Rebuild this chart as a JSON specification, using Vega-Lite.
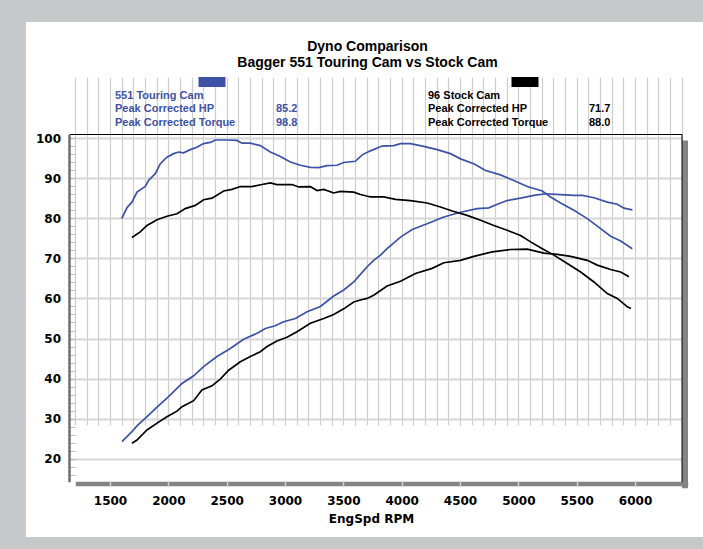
{
  "$schema": "https://vega.github.io/schema/vega-lite/v6.json",
  "width": 677,
  "height": 515,
  "autosize": {"type": "none"},
  "padding": {"left": 26, "top": 22, "right": 0, "bottom": 12},
  "background": "#c7c8ca",
  "view": {"fill": "white", "stroke": null},
  "title": {
    "text": "Dyno Comparison",
    "subtitle": "Bagger 551 Touring Cam vs Stock Cam",
    "anchor": "middle",
    "frame": "group",
    "offset": -48,
    "dx": 3,
    "font": "Liberation Sans",
    "fontSize": 14,
    "fontWeight": "bold",
    "color": "#000000",
    "subtitleFont": "Liberation Sans",
    "subtitleFontSize": 14,
    "subtitleFontWeight": "bold",
    "subtitleColor": "#000000",
    "subtitlePadding": 2
  },
  "datasets": {
    "cams": [
      {"cam": "551 Touring Cam"},
      {"cam": "96 Stock Cam"}
    ],
    "peaks": [
      {"cam": "551 Touring Cam", "metric": "Peak Corrected HP", "value": 85.2},
      {"cam": "551 Touring Cam", "metric": "Peak Corrected Torque", "value": 98.8},
      {"cam": "96 Stock Cam", "metric": "Peak Corrected HP", "value": 71.7},
      {"cam": "96 Stock Cam", "metric": "Peak Corrected Torque", "value": 88.0}
    ],
    "curves": [
      {"cam": "551 Touring Cam", "measure": "Torque", "rpm": 1600, "value": 79.9},
      {"cam": "551 Touring Cam", "measure": "Torque", "rpm": 1645, "value": 82.6},
      {"cam": "551 Touring Cam", "measure": "Torque", "rpm": 1688, "value": 84.0},
      {"cam": "551 Touring Cam", "measure": "Torque", "rpm": 1731, "value": 86.5},
      {"cam": "551 Touring Cam", "measure": "Torque", "rpm": 1802, "value": 87.9},
      {"cam": "551 Touring Cam", "measure": "Torque", "rpm": 1830, "value": 89.4},
      {"cam": "551 Touring Cam", "measure": "Torque", "rpm": 1888, "value": 91.1},
      {"cam": "551 Touring Cam", "measure": "Torque", "rpm": 1931, "value": 93.6},
      {"cam": "551 Touring Cam", "measure": "Torque", "rpm": 1988, "value": 95.2},
      {"cam": "551 Touring Cam", "measure": "Torque", "rpm": 2045, "value": 96.1},
      {"cam": "551 Touring Cam", "measure": "Torque", "rpm": 2088, "value": 96.5},
      {"cam": "551 Touring Cam", "measure": "Torque", "rpm": 2131, "value": 96.3},
      {"cam": "551 Touring Cam", "measure": "Torque", "rpm": 2188, "value": 97.1},
      {"cam": "551 Touring Cam", "measure": "Torque", "rpm": 2245, "value": 97.7},
      {"cam": "551 Touring Cam", "measure": "Torque", "rpm": 2302, "value": 98.6},
      {"cam": "551 Touring Cam", "measure": "Torque", "rpm": 2360, "value": 98.9},
      {"cam": "551 Touring Cam", "measure": "Torque", "rpm": 2402, "value": 99.5},
      {"cam": "551 Touring Cam", "measure": "Torque", "rpm": 2500, "value": 99.5},
      {"cam": "551 Touring Cam", "measure": "Torque", "rpm": 2588, "value": 99.4},
      {"cam": "551 Touring Cam", "measure": "Torque", "rpm": 2631, "value": 98.7},
      {"cam": "551 Touring Cam", "measure": "Torque", "rpm": 2703, "value": 98.7},
      {"cam": "551 Touring Cam", "measure": "Torque", "rpm": 2788, "value": 98.1},
      {"cam": "551 Touring Cam", "measure": "Torque", "rpm": 2874, "value": 96.5},
      {"cam": "551 Touring Cam", "measure": "Torque", "rpm": 2960, "value": 95.4},
      {"cam": "551 Touring Cam", "measure": "Torque", "rpm": 3046, "value": 94.0},
      {"cam": "551 Touring Cam", "measure": "Torque", "rpm": 3132, "value": 93.2},
      {"cam": "551 Touring Cam", "measure": "Torque", "rpm": 3217, "value": 92.7},
      {"cam": "551 Touring Cam", "measure": "Torque", "rpm": 3289, "value": 92.6},
      {"cam": "551 Touring Cam", "measure": "Torque", "rpm": 3360, "value": 93.1},
      {"cam": "551 Touring Cam", "measure": "Torque", "rpm": 3446, "value": 93.2},
      {"cam": "551 Touring Cam", "measure": "Torque", "rpm": 3503, "value": 93.9},
      {"cam": "551 Touring Cam", "measure": "Torque", "rpm": 3603, "value": 94.2},
      {"cam": "551 Touring Cam", "measure": "Torque", "rpm": 3661, "value": 95.8},
      {"cam": "551 Touring Cam", "measure": "Torque", "rpm": 3732, "value": 96.8},
      {"cam": "551 Touring Cam", "measure": "Torque", "rpm": 3832, "value": 98.0},
      {"cam": "551 Touring Cam", "measure": "Torque", "rpm": 3932, "value": 98.1},
      {"cam": "551 Touring Cam", "measure": "Torque", "rpm": 3990, "value": 98.6},
      {"cam": "551 Touring Cam", "measure": "Torque", "rpm": 4075, "value": 98.6},
      {"cam": "551 Touring Cam", "measure": "Torque", "rpm": 4189, "value": 97.9},
      {"cam": "551 Touring Cam", "measure": "Torque", "rpm": 4304, "value": 97.1},
      {"cam": "551 Touring Cam", "measure": "Torque", "rpm": 4418, "value": 96.1},
      {"cam": "551 Touring Cam", "measure": "Torque", "rpm": 4504, "value": 94.8},
      {"cam": "551 Touring Cam", "measure": "Torque", "rpm": 4618, "value": 93.6},
      {"cam": "551 Touring Cam", "measure": "Torque", "rpm": 4719, "value": 91.9},
      {"cam": "551 Touring Cam", "measure": "Torque", "rpm": 4847, "value": 90.8},
      {"cam": "551 Touring Cam", "measure": "Torque", "rpm": 4961, "value": 89.4},
      {"cam": "551 Touring Cam", "measure": "Torque", "rpm": 5076, "value": 87.9},
      {"cam": "551 Touring Cam", "measure": "Torque", "rpm": 5205, "value": 86.8},
      {"cam": "551 Touring Cam", "measure": "Torque", "rpm": 5276, "value": 85.3},
      {"cam": "551 Touring Cam", "measure": "Torque", "rpm": 5362, "value": 83.8},
      {"cam": "551 Touring Cam", "measure": "Torque", "rpm": 5476, "value": 82.0},
      {"cam": "551 Touring Cam", "measure": "Torque", "rpm": 5591, "value": 79.9},
      {"cam": "551 Touring Cam", "measure": "Torque", "rpm": 5705, "value": 77.4},
      {"cam": "551 Touring Cam", "measure": "Torque", "rpm": 5791, "value": 75.5},
      {"cam": "551 Touring Cam", "measure": "Torque", "rpm": 5877, "value": 74.3},
      {"cam": "551 Touring Cam", "measure": "Torque", "rpm": 5977, "value": 72.4},

      {"cam": "551 Touring Cam", "measure": "HP", "rpm": 1602, "value": 24.3},
      {"cam": "551 Touring Cam", "measure": "HP", "rpm": 1688, "value": 26.8},
      {"cam": "551 Touring Cam", "measure": "HP", "rpm": 1731, "value": 28.2},
      {"cam": "551 Touring Cam", "measure": "HP", "rpm": 1817, "value": 30.5},
      {"cam": "551 Touring Cam", "measure": "HP", "rpm": 1903, "value": 32.9},
      {"cam": "551 Touring Cam", "measure": "HP", "rpm": 2002, "value": 35.5},
      {"cam": "551 Touring Cam", "measure": "HP", "rpm": 2117, "value": 38.8},
      {"cam": "551 Touring Cam", "measure": "HP", "rpm": 2217, "value": 40.7},
      {"cam": "551 Touring Cam", "measure": "HP", "rpm": 2302, "value": 43.0},
      {"cam": "551 Touring Cam", "measure": "HP", "rpm": 2417, "value": 45.5},
      {"cam": "551 Touring Cam", "measure": "HP", "rpm": 2531, "value": 47.5},
      {"cam": "551 Touring Cam", "measure": "HP", "rpm": 2645, "value": 49.8},
      {"cam": "551 Touring Cam", "measure": "HP", "rpm": 2774, "value": 51.5},
      {"cam": "551 Touring Cam", "measure": "HP", "rpm": 2831, "value": 52.5},
      {"cam": "551 Touring Cam", "measure": "HP", "rpm": 2917, "value": 53.2},
      {"cam": "551 Touring Cam", "measure": "HP", "rpm": 2988, "value": 54.2},
      {"cam": "551 Touring Cam", "measure": "HP", "rpm": 3089, "value": 55.0},
      {"cam": "551 Touring Cam", "measure": "HP", "rpm": 3189, "value": 56.7},
      {"cam": "551 Touring Cam", "measure": "HP", "rpm": 3303, "value": 58.0},
      {"cam": "551 Touring Cam", "measure": "HP", "rpm": 3374, "value": 59.6},
      {"cam": "551 Touring Cam", "measure": "HP", "rpm": 3417, "value": 60.6},
      {"cam": "551 Touring Cam", "measure": "HP", "rpm": 3503, "value": 62.1},
      {"cam": "551 Touring Cam", "measure": "HP", "rpm": 3589, "value": 64.1},
      {"cam": "551 Touring Cam", "measure": "HP", "rpm": 3646, "value": 66.0},
      {"cam": "551 Touring Cam", "measure": "HP", "rpm": 3704, "value": 67.9},
      {"cam": "551 Touring Cam", "measure": "HP", "rpm": 3760, "value": 69.5},
      {"cam": "551 Touring Cam", "measure": "HP", "rpm": 3818, "value": 70.8},
      {"cam": "551 Touring Cam", "measure": "HP", "rpm": 3875, "value": 72.4},
      {"cam": "551 Touring Cam", "measure": "HP", "rpm": 3990, "value": 75.3},
      {"cam": "551 Touring Cam", "measure": "HP", "rpm": 4090, "value": 77.2},
      {"cam": "551 Touring Cam", "measure": "HP", "rpm": 4218, "value": 78.6},
      {"cam": "551 Touring Cam", "measure": "HP", "rpm": 4361, "value": 80.3},
      {"cam": "551 Touring Cam", "measure": "HP", "rpm": 4504, "value": 81.5},
      {"cam": "551 Touring Cam", "measure": "HP", "rpm": 4647, "value": 82.4},
      {"cam": "551 Touring Cam", "measure": "HP", "rpm": 4747, "value": 82.6},
      {"cam": "551 Touring Cam", "measure": "HP", "rpm": 4819, "value": 83.5},
      {"cam": "551 Touring Cam", "measure": "HP", "rpm": 4904, "value": 84.4},
      {"cam": "551 Touring Cam", "measure": "HP", "rpm": 5019, "value": 85.0},
      {"cam": "551 Touring Cam", "measure": "HP", "rpm": 5133, "value": 85.7},
      {"cam": "551 Touring Cam", "measure": "HP", "rpm": 5233, "value": 86.1},
      {"cam": "551 Touring Cam", "measure": "HP", "rpm": 5362, "value": 85.9},
      {"cam": "551 Touring Cam", "measure": "HP", "rpm": 5476, "value": 85.7},
      {"cam": "551 Touring Cam", "measure": "HP", "rpm": 5548, "value": 85.7},
      {"cam": "551 Touring Cam", "measure": "HP", "rpm": 5648, "value": 85.1},
      {"cam": "551 Touring Cam", "measure": "HP", "rpm": 5762, "value": 84.0},
      {"cam": "551 Touring Cam", "measure": "HP", "rpm": 5848, "value": 83.5},
      {"cam": "551 Touring Cam", "measure": "HP", "rpm": 5905, "value": 82.5},
      {"cam": "551 Touring Cam", "measure": "HP", "rpm": 5977, "value": 82.1},

      {"cam": "96 Stock Cam", "measure": "Torque", "rpm": 1688, "value": 75.2},
      {"cam": "96 Stock Cam", "measure": "Torque", "rpm": 1759, "value": 76.6},
      {"cam": "96 Stock Cam", "measure": "Torque", "rpm": 1817, "value": 78.2},
      {"cam": "96 Stock Cam", "measure": "Torque", "rpm": 1903, "value": 79.6},
      {"cam": "96 Stock Cam", "measure": "Torque", "rpm": 1988, "value": 80.5},
      {"cam": "96 Stock Cam", "measure": "Torque", "rpm": 2074, "value": 81.1},
      {"cam": "96 Stock Cam", "measure": "Torque", "rpm": 2145, "value": 82.4},
      {"cam": "96 Stock Cam", "measure": "Torque", "rpm": 2231, "value": 83.2},
      {"cam": "96 Stock Cam", "measure": "Torque", "rpm": 2302, "value": 84.6},
      {"cam": "96 Stock Cam", "measure": "Torque", "rpm": 2374, "value": 85.0},
      {"cam": "96 Stock Cam", "measure": "Torque", "rpm": 2474, "value": 86.8},
      {"cam": "96 Stock Cam", "measure": "Torque", "rpm": 2545, "value": 87.2},
      {"cam": "96 Stock Cam", "measure": "Torque", "rpm": 2617, "value": 87.9},
      {"cam": "96 Stock Cam", "measure": "Torque", "rpm": 2717, "value": 87.9},
      {"cam": "96 Stock Cam", "measure": "Torque", "rpm": 2803, "value": 88.4},
      {"cam": "96 Stock Cam", "measure": "Torque", "rpm": 2874, "value": 88.8},
      {"cam": "96 Stock Cam", "measure": "Torque", "rpm": 2931, "value": 88.4},
      {"cam": "96 Stock Cam", "measure": "Torque", "rpm": 3060, "value": 88.4},
      {"cam": "96 Stock Cam", "measure": "Torque", "rpm": 3117, "value": 87.8},
      {"cam": "96 Stock Cam", "measure": "Torque", "rpm": 3217, "value": 87.9},
      {"cam": "96 Stock Cam", "measure": "Torque", "rpm": 3274, "value": 86.9},
      {"cam": "96 Stock Cam", "measure": "Torque", "rpm": 3332, "value": 87.2},
      {"cam": "96 Stock Cam", "measure": "Torque", "rpm": 3417, "value": 86.3},
      {"cam": "96 Stock Cam", "measure": "Torque", "rpm": 3474, "value": 86.7},
      {"cam": "96 Stock Cam", "measure": "Torque", "rpm": 3589, "value": 86.5},
      {"cam": "96 Stock Cam", "measure": "Torque", "rpm": 3646, "value": 85.9},
      {"cam": "96 Stock Cam", "measure": "Torque", "rpm": 3732, "value": 85.3},
      {"cam": "96 Stock Cam", "measure": "Torque", "rpm": 3846, "value": 85.3},
      {"cam": "96 Stock Cam", "measure": "Torque", "rpm": 3947, "value": 84.7},
      {"cam": "96 Stock Cam", "measure": "Torque", "rpm": 4075, "value": 84.4},
      {"cam": "96 Stock Cam", "measure": "Torque", "rpm": 4218, "value": 83.8},
      {"cam": "96 Stock Cam", "measure": "Torque", "rpm": 4332, "value": 82.8},
      {"cam": "96 Stock Cam", "measure": "Torque", "rpm": 4433, "value": 81.8},
      {"cam": "96 Stock Cam", "measure": "Torque", "rpm": 4561, "value": 80.7},
      {"cam": "96 Stock Cam", "measure": "Torque", "rpm": 4676, "value": 79.5},
      {"cam": "96 Stock Cam", "measure": "Torque", "rpm": 4790, "value": 78.2},
      {"cam": "96 Stock Cam", "measure": "Torque", "rpm": 4904, "value": 77.0},
      {"cam": "96 Stock Cam", "measure": "Torque", "rpm": 5019, "value": 75.7},
      {"cam": "96 Stock Cam", "measure": "Torque", "rpm": 5105, "value": 74.1},
      {"cam": "96 Stock Cam", "measure": "Torque", "rpm": 5205, "value": 72.4},
      {"cam": "96 Stock Cam", "measure": "Torque", "rpm": 5305, "value": 70.8},
      {"cam": "96 Stock Cam", "measure": "Torque", "rpm": 5419, "value": 68.7},
      {"cam": "96 Stock Cam", "measure": "Torque", "rpm": 5534, "value": 66.6},
      {"cam": "96 Stock Cam", "measure": "Torque", "rpm": 5648, "value": 64.1},
      {"cam": "96 Stock Cam", "measure": "Torque", "rpm": 5762, "value": 61.2},
      {"cam": "96 Stock Cam", "measure": "Torque", "rpm": 5848, "value": 60.0},
      {"cam": "96 Stock Cam", "measure": "Torque", "rpm": 5934, "value": 57.9},
      {"cam": "96 Stock Cam", "measure": "Torque", "rpm": 5965, "value": 57.5},

      {"cam": "96 Stock Cam", "measure": "HP", "rpm": 1688, "value": 23.9},
      {"cam": "96 Stock Cam", "measure": "HP", "rpm": 1731, "value": 24.7},
      {"cam": "96 Stock Cam", "measure": "HP", "rpm": 1817, "value": 27.2},
      {"cam": "96 Stock Cam", "measure": "HP", "rpm": 1903, "value": 28.9},
      {"cam": "96 Stock Cam", "measure": "HP", "rpm": 1988, "value": 30.5},
      {"cam": "96 Stock Cam", "measure": "HP", "rpm": 2074, "value": 31.9},
      {"cam": "96 Stock Cam", "measure": "HP", "rpm": 2117, "value": 33.0},
      {"cam": "96 Stock Cam", "measure": "HP", "rpm": 2217, "value": 34.5},
      {"cam": "96 Stock Cam", "measure": "HP", "rpm": 2288, "value": 37.2},
      {"cam": "96 Stock Cam", "measure": "HP", "rpm": 2374, "value": 38.2},
      {"cam": "96 Stock Cam", "measure": "HP", "rpm": 2445, "value": 39.9},
      {"cam": "96 Stock Cam", "measure": "HP", "rpm": 2517, "value": 42.1},
      {"cam": "96 Stock Cam", "measure": "HP", "rpm": 2617, "value": 44.2},
      {"cam": "96 Stock Cam", "measure": "HP", "rpm": 2703, "value": 45.5},
      {"cam": "96 Stock Cam", "measure": "HP", "rpm": 2788, "value": 46.7},
      {"cam": "96 Stock Cam", "measure": "HP", "rpm": 2846, "value": 48.0},
      {"cam": "96 Stock Cam", "measure": "HP", "rpm": 2931, "value": 49.4},
      {"cam": "96 Stock Cam", "measure": "HP", "rpm": 3017, "value": 50.3},
      {"cam": "96 Stock Cam", "measure": "HP", "rpm": 3103, "value": 51.7},
      {"cam": "96 Stock Cam", "measure": "HP", "rpm": 3217, "value": 53.8},
      {"cam": "96 Stock Cam", "measure": "HP", "rpm": 3332, "value": 55.0},
      {"cam": "96 Stock Cam", "measure": "HP", "rpm": 3417, "value": 56.0},
      {"cam": "96 Stock Cam", "measure": "HP", "rpm": 3503, "value": 57.4},
      {"cam": "96 Stock Cam", "measure": "HP", "rpm": 3589, "value": 59.1},
      {"cam": "96 Stock Cam", "measure": "HP", "rpm": 3646, "value": 59.6},
      {"cam": "96 Stock Cam", "measure": "HP", "rpm": 3704, "value": 60.0},
      {"cam": "96 Stock Cam", "measure": "HP", "rpm": 3760, "value": 60.8},
      {"cam": "96 Stock Cam", "measure": "HP", "rpm": 3875, "value": 63.1},
      {"cam": "96 Stock Cam", "measure": "HP", "rpm": 3990, "value": 64.3},
      {"cam": "96 Stock Cam", "measure": "HP", "rpm": 4118, "value": 66.2},
      {"cam": "96 Stock Cam", "measure": "HP", "rpm": 4261, "value": 67.5},
      {"cam": "96 Stock Cam", "measure": "HP", "rpm": 4361, "value": 68.9},
      {"cam": "96 Stock Cam", "measure": "HP", "rpm": 4504, "value": 69.5},
      {"cam": "96 Stock Cam", "measure": "HP", "rpm": 4618, "value": 70.5},
      {"cam": "96 Stock Cam", "measure": "HP", "rpm": 4776, "value": 71.6},
      {"cam": "96 Stock Cam", "measure": "HP", "rpm": 4933, "value": 72.2},
      {"cam": "96 Stock Cam", "measure": "HP", "rpm": 5076, "value": 72.3},
      {"cam": "96 Stock Cam", "measure": "HP", "rpm": 5219, "value": 71.3},
      {"cam": "96 Stock Cam", "measure": "HP", "rpm": 5333, "value": 71.0},
      {"cam": "96 Stock Cam", "measure": "HP", "rpm": 5448, "value": 70.5},
      {"cam": "96 Stock Cam", "measure": "HP", "rpm": 5591, "value": 69.5},
      {"cam": "96 Stock Cam", "measure": "HP", "rpm": 5676, "value": 68.3},
      {"cam": "96 Stock Cam", "measure": "HP", "rpm": 5791, "value": 67.2},
      {"cam": "96 Stock Cam", "measure": "HP", "rpm": 5877, "value": 66.6},
      {"cam": "96 Stock Cam", "measure": "HP", "rpm": 5948, "value": 65.4}
    ]
  },
  "layer": [
    {
      "layer": [
        {
          "data": {"name": "cams"},
          "mark": {"type": "point", "shape": "M-1,-0.37H1V0.37H-1Z", "filled": true, "size": 729, "opacity": 1, "strokeWidth": 0, "xOffset": 97},
          "encoding": {
            "x": {"field": "cam", "type": "nominal", "scale": {"type": "point", "domain": ["551 Touring Cam", "96 Stock Cam"], "range": [89, 402], "padding": 0}, "axis": null},
            "y": {"datum": "swatch", "type": "nominal", "scale": {"type": "point", "domain": ["swatch", "name", "Peak Corrected HP", "Peak Corrected Torque"], "range": [60, 101], "padding": 0}, "axis": null},
            "color": {"field": "cam", "type": "nominal", "scale": {"domain": ["551 Touring Cam", "96 Stock Cam"], "range": ["#3d51a6", "#000000"]}, "legend": null}
          }
        },
        {
          "data": {"name": "cams"},
          "mark": {"type": "text", "align": "left", "baseline": "middle", "font": "Liberation Sans", "fontSize": 11, "fontWeight": "bold"},
          "encoding": {
            "x": {"field": "cam", "type": "nominal", "scale": {"type": "point", "domain": ["551 Touring Cam", "96 Stock Cam"], "range": [89, 402], "padding": 0}, "axis": null},
            "y": {"datum": "name", "type": "nominal", "scale": {"type": "point", "domain": ["swatch", "name", "Peak Corrected HP", "Peak Corrected Torque"], "range": [60, 101], "padding": 0}, "axis": null},
            "text": {"field": "cam", "type": "nominal"},
            "color": {"field": "cam", "type": "nominal", "legend": null}
          }
        },
        {
          "data": {"name": "peaks"},
          "mark": {"type": "text", "align": "left", "baseline": "middle", "font": "Liberation Sans", "fontSize": 11, "fontWeight": "bold"},
          "encoding": {
            "x": {"field": "cam", "type": "nominal", "scale": {"type": "point", "domain": ["551 Touring Cam", "96 Stock Cam"], "range": [89, 402], "padding": 0}, "axis": null},
            "y": {"field": "metric", "type": "nominal", "scale": {"type": "point", "domain": ["swatch", "name", "Peak Corrected HP", "Peak Corrected Torque"], "range": [60, 101], "padding": 0}, "axis": null},
            "text": {"field": "metric", "type": "nominal"},
            "color": {"field": "cam", "type": "nominal", "legend": null}
          }
        },
        {
          "data": {"name": "peaks"},
          "mark": {"type": "text", "align": "left", "baseline": "middle", "font": "Liberation Sans", "fontSize": 11, "fontWeight": "bold", "dx": 161},
          "encoding": {
            "x": {"field": "cam", "type": "nominal", "scale": {"type": "point", "domain": ["551 Touring Cam", "96 Stock Cam"], "range": [89, 402], "padding": 0}, "axis": null},
            "y": {"field": "metric", "type": "nominal", "scale": {"type": "point", "domain": ["swatch", "name", "Peak Corrected HP", "Peak Corrected Torque"], "range": [60, 101], "padding": 0}, "axis": null},
            "text": {"field": "value", "type": "quantitative", "format": ".1f"},
            "color": {"field": "cam", "type": "nominal", "legend": null}
          }
        }
      ]
    },
    {
      "data": {"name": "curves"},
      "layer": [
        {
          "mark": {"type": "line", "strokeOpacity": 0},
          "encoding": {
            "x": {"field": "rpm", "type": "quantitative", "scale": {"domain": [1151, 6400], "range": [43.3, 655.7], "nice": false, "zero": false},
              "axis": {"orient": "bottom", "offset": -59.5, "translate": 6.5, "domain": true, "domainColor": "#848484", "domainWidth": 4.5, "ticks": false, "labels": false, "grid": false, "title": null}},
            "y": {"field": "value", "type": "quantitative", "scale": {"domain": [14.3, 101], "range": [459.7, 112], "nice": false, "zero": false},
              "axis": {"orient": "right", "offset": -24.5, "translate": 6.5, "domain": true, "domainColor": "#848484", "domainWidth": 6, "ticks": false, "labels": false, "grid": false, "title": null}},
            "detail": {"field": "measure", "type": "nominal"}
          }
        },
        {
          "mark": {"type": "line", "strokeOpacity": 0},
          "encoding": {
            "x": {"field": "rpm", "type": "quantitative", "scale": {"domain": [1151, 6400], "range": [43.3, 655.7], "nice": false, "zero": false},
              "axis": {"orient": "top", "offset": -112, "translate": 0.5, "domain": true, "domainColor": "#000000", "domainWidth": 1, "ticks": false, "labels": false, "grid": false, "title": null}},
            "y": {"field": "value", "type": "quantitative", "scale": {"domain": [14.3, 101], "range": [459.7, 112], "nice": false, "zero": false},
              "axis": {"orient": "right", "offset": -21.5, "translate": 0.5, "domain": true, "domainColor": "#000000", "domainWidth": 1, "ticks": false, "labels": false, "grid": false, "title": null}},
            "detail": {"field": "measure", "type": "nominal"}
          }
        },
        {
          "mark": {"type": "line", "strokeWidth": 1.7, "interpolate": "linear"},
          "encoding": {
            "x": {"field": "rpm", "type": "quantitative", "scale": {"domain": [1151, 6400], "range": [43.3, 655.7], "nice": false, "zero": false},
              "axis": {
                "orient": "bottom", "offset": -55.3, "tickCount": 52, "domain": false,
                "grid": true, "gridColor": "#cdcdcd", "gridWidth": 1.2,
                "ticks": true, "tickSize": 5, "tickColor": "#d2d2d2", "tickWidth": 1.5,
                "tickOpacity": {"condition": {"test": "datum.value % 500 === 0", "value": 1}, "value": 0},
                "labelExpr": "datum.value % 500 === 0 ? format(datum.value, 'd') : ''",
                "labelFont": "DejaVu Sans", "labelFontSize": 12, "labelFontWeight": "bold", "labelColor": "#000000",
                "labelPadding": 9, "labelOverlap": false, "labelFlush": false, "labelBound": false,
                "title": "EngSpd RPM", "titleFont": "DejaVu Sans", "titleFontSize": 12, "titleFontWeight": "bold", "titleColor": "#000000",
                "titlePadding": 7, "titleX": 345
              }},
            "y": {"field": "value", "type": "quantitative", "scale": {"domain": [14.3, 101], "range": [459.7, 112], "nice": false, "zero": false},
              "axis": {
                "orient": "left", "offset": -43, "tickCount": 43,
                "domain": true, "domainColor": "#6e6e6e", "domainWidth": 2.5,
                "grid": true, "gridColor": "#d6d6d6", "gridWidth": 2,
                "gridOpacity": {"condition": {"test": "datum.value % 10 === 0", "value": 1}, "value": 0},
                "ticks": true, "tickSize": -6, "tickColor": "#bdbdbd", "tickWidth": 1,
                "labelExpr": "datum.value % 10 === 0 ? format(datum.value, 'd') : ''",
                "labelFont": "DejaVu Sans", "labelFontSize": 12, "labelFontWeight": "bold", "labelColor": "#000000",
                "labelPadding": 14.5, "labelOverlap": false, "labelFlush": false, "labelBound": false,
                "title": null
              }},
            "color": {"field": "cam", "type": "nominal", "scale": {"domain": ["551 Touring Cam", "96 Stock Cam"], "range": ["#3d51a6", "#000000"]}, "legend": null},
            "detail": {"field": "measure", "type": "nominal"}
          }
        }
      ],
      "resolve": {"axis": {"x": "independent", "y": "independent"}}
    }
  ],
  "resolve": {"scale": {"x": "independent", "y": "independent"}}
}
